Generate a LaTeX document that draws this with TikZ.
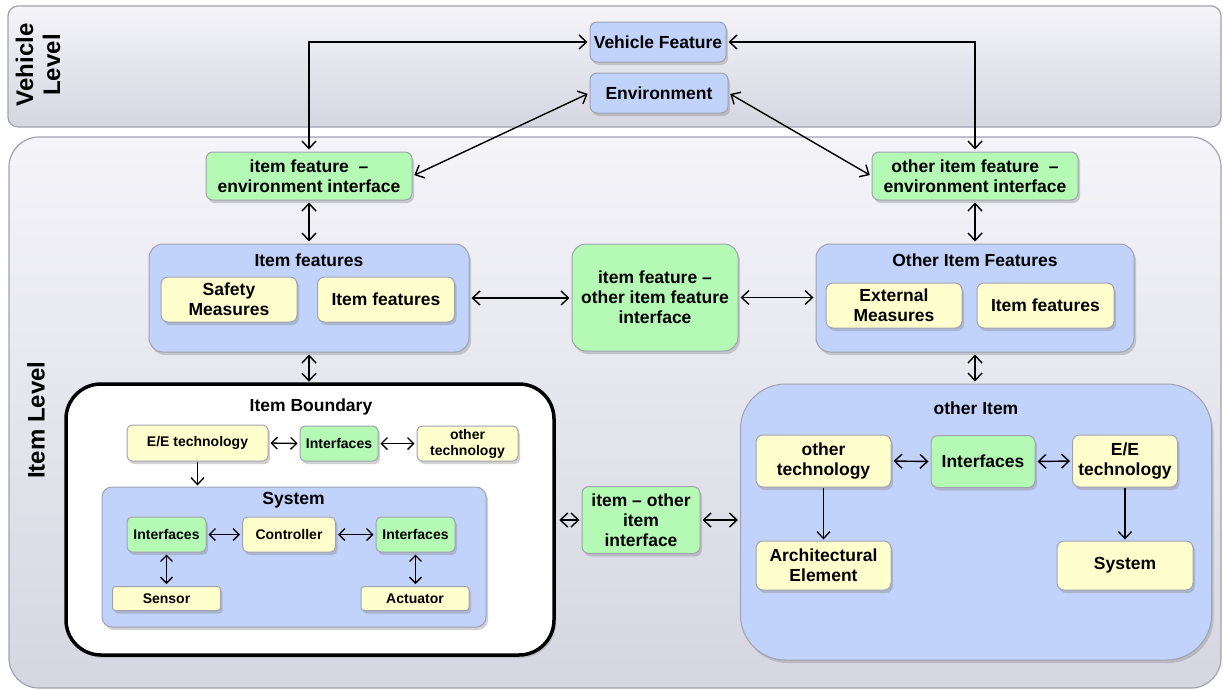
\documentclass[tikz,border=0pt]{standalone}
\usepackage{fontspec}
\setmainfont{Liberation Sans}
\usetikzlibrary{arrows.meta,shadows}

\definecolor{bluefill}{RGB}{193,210,251}
\definecolor{greenfill}{RGB}{180,250,180}
\definecolor{yellowfill}{RGB}{255,255,205}
\definecolor{edgegray}{RGB}{160,162,178}
\definecolor{paneltop}{RGB}{244,244,249}
\definecolor{panelbot}{RGB}{214,214,225}

\begin{document}
\begin{tikzpicture}[x=1pt,y=-1pt,
  box/.style={draw=edgegray, line width=1pt, rounded corners=7pt, inner sep=0pt,
    align=center, font=\bfseries\fontsize{17.5}{20}\selectfont,
    drop shadow={shadow xshift=2pt,shadow yshift=-3pt,opacity=0.35}},
  bluebox/.style={box, fill=bluefill},
  greenbox/.style={box, fill=greenfill},
  yellowbox/.style={box, fill=yellowfill},
  small/.style={font=\bfseries\fontsize{14}{16}\selectfont, rounded corners=5pt},
  title/.style={font=\bfseries\fontsize{17.5}{20}\selectfont, inner sep=0pt},
  panel/.style={draw=edgegray, line width=1.2pt, top color=paneltop, bottom color=panelbot, inner sep=0pt},
  levellabel/.style={font=\bfseries\fontsize{24}{27}\selectfont, rotate=90, align=center, inner sep=0pt},
  link/.style={{Straight Barb[length=7.5pt,width=14pt]}-{Straight Barb[length=7.5pt,width=14pt]},
    line width=1.4pt, shorten <=2pt, shorten >=2pt},
  smalllink/.style={{Straight Barb[length=6pt,width=12pt]}-{Straight Barb[length=6pt,width=12pt]},
    line width=1.3pt, shorten <=2pt, shorten >=2pt},
  onelink/.style={-{Straight Barb[length=7pt,width=13pt]}, line width=1.3pt, shorten >=1pt},
]
\useasboundingbox (0,0) rectangle (1223,689);
\fill[white] (0,0) rectangle (1223,689);

% level panels
\node[panel, rounded corners=10pt, minimum width=1213pt, minimum height=121pt] (vlevel) at (614.5,66.5) {};
\node[panel, rounded corners=30pt, minimum width=1212pt, minimum height=551pt] (ilevel) at (615,412.5) {};
\node[levellabel] (vlabel) at (38,65) {Vehicle\\Level};
\node[levellabel] (ilabel) at (36,420) {Item Level};

% vehicle level
\node[bluebox, minimum width=136pt, minimum height=40pt] (vf) at (658,42) {Vehicle Feature};
\node[bluebox, minimum width=138pt, minimum height=40pt] (env) at (659,93) {Environment};

% environment interfaces
\node[greenbox, minimum width=206pt, minimum height=48pt] (ifenv) at (309,176) {item feature~~–\\environment interface};
\node[greenbox, minimum width=206pt, minimum height=48pt] (ofenv) at (975,176) {other item feature~~–\\environment interface};

% feature row
\node[bluebox, rounded corners=14pt, minimum width=320pt, minimum height=108pt] (itemfeat) at (309,298) {};
\node[title] (itemfeattitle) at (309,260) {Item features};
\node[yellowbox, minimum width=136pt, minimum height=45pt] (safety) at (229,299.5) {Safety\\Measures};
\node[yellowbox, minimum width=137pt, minimum height=45pt] (itf1) at (386,299.5) {Item features};

\node[greenbox, rounded corners=14pt, minimum width=166pt, minimum height=107pt] (mid) at (655,297.5) {item feature –\\other item feature\\interface};

\node[bluebox, rounded corners=14pt, minimum width=318pt, minimum height=108pt] (oif) at (975,298) {};
\node[title] (oiftitle) at (975,260) {Other Item Features};
\node[yellowbox, minimum width=136pt, minimum height=45pt] (ext) at (894,305.5) {External\\Measures};
\node[yellowbox, minimum width=137pt, minimum height=45pt] (itf2) at (1045.5,305.5) {Item features};

% item boundary
\node[draw=black, line width=3.5pt, fill=white, rounded corners=35pt, minimum width=488pt, minimum height=271pt,
  inner sep=0pt, drop shadow={shadow xshift=2pt,shadow yshift=-3pt,opacity=0.25}] (ib) at (310,519.5) {};
\node[title] (ibtitle) at (311,407) {Item Boundary};
\node[yellowbox, small, minimum width=141pt, minimum height=36pt] (ee1) at (197.5,443) {E/E technology};
\node[greenbox, small, minimum width=78pt, minimum height=35pt] (int1) at (339,443.5) {Interfaces};
\node[yellowbox, small, minimum width=101pt, minimum height=35pt] (ot1) at (467.5,443.5) {other\\technology};

\node[bluebox, rounded corners=10pt, minimum width=384pt, minimum height=140pt] (sys) at (294,557) {};
\node[title] (systitle) at (293.5,500) {System};
\node[greenbox, small, minimum width=79pt, minimum height=35pt] (intA) at (166.5,534.5) {Interfaces};
\node[yellowbox, small, minimum width=93pt, minimum height=35pt] (ctrl) at (289,534.5) {Controller};
\node[greenbox, small, minimum width=79pt, minimum height=35pt] (intB) at (415.5,534.5) {Interfaces};
\node[yellowbox, small, rounded corners=3pt, minimum width=108pt, minimum height=24pt] (sensor) at (166.5,598.5) {Sensor};
\node[yellowbox, small, rounded corners=3pt, minimum width=108pt, minimum height=24pt] (actuator) at (415,598.5) {Actuator};

% item to other item interface
\node[greenbox, minimum width=118pt, minimum height=67pt] (ioi) at (641,520) {item – other\\item\\interface};

% other item
\node[bluebox, rounded corners=45pt, minimum width=471pt, minimum height=276pt] (oitem) at (976,522) {};
\node[title] (oitemtitle) at (976,408) {other Item};
\node[yellowbox, minimum width=135pt, minimum height=52pt] (ot2) at (823.5,461) {other\\technology};
\node[greenbox, minimum width=104pt, minimum height=52pt] (int2) at (983,461.5) {Interfaces};
\node[yellowbox, minimum width=105pt, minimum height=52pt] (ee2) at (1125,461) {E/E\\technology};
\node[yellowbox, minimum width=135pt, minimum height=49pt] (arch) at (823.5,565.5) {Architectural\\Element};
\node[yellowbox, minimum width=136pt, minimum height=49pt] (sys2) at (1125,565.5) {System};

% connectors between levels
\draw[link] (vf.west) -| (ifenv.north);
\draw[link] (vf.east) -| (ofenv.north);
\draw[link] (env.west) -- (ifenv.east);
\draw[link] (env.east) -- (ofenv.west);
\draw[link] (ifenv.south) -- (ifenv.south |- itemfeat.north);
\draw[link] (ofenv.south) -- (ofenv.south |- oif.north);
\draw[link] (itemfeat.east) -- (itemfeat.east -| mid.west);
\draw[link] (mid.east) -- (mid.east -| oif.west);
\draw[link] (itemfeat.south) -- ([yshift=-1.5pt]itemfeat.south |- ib.north);
\draw[link] (oif.south) -- (oif.south |- oitem.north);
\draw[link] ([xshift=1.5pt]ioi.west -| ib.east) -- (ioi.west);
\draw[link] (ioi.east) -- (ioi.east -| oitem.west);

% connectors inside the item boundary
\draw[smalllink] (ee1.east) -- (int1.west);
\draw[smalllink] (int1.east) -- (ot1.west);
\draw[onelink] (ee1.south) -- (ee1.south |- sys.north);
\draw[smalllink] (intA.east) -- (ctrl.west);
\draw[smalllink] (ctrl.east) -- (intB.west);
\draw[smalllink] (intA.south) -- (intA.south |- sensor.north);
\draw[smalllink] (intB.south) -- (intB.south |- actuator.north);

% connectors inside the other item
\draw[link] (ot2.east) -- (int2.west);
\draw[link] (int2.east) -- (ee2.west);
\draw[onelink] (ot2.south) -- (ot2.south |- arch.north);
\draw[onelink] (ee2.south) -- (ee2.south |- sys2.north);
\end{tikzpicture}
\end{document}
